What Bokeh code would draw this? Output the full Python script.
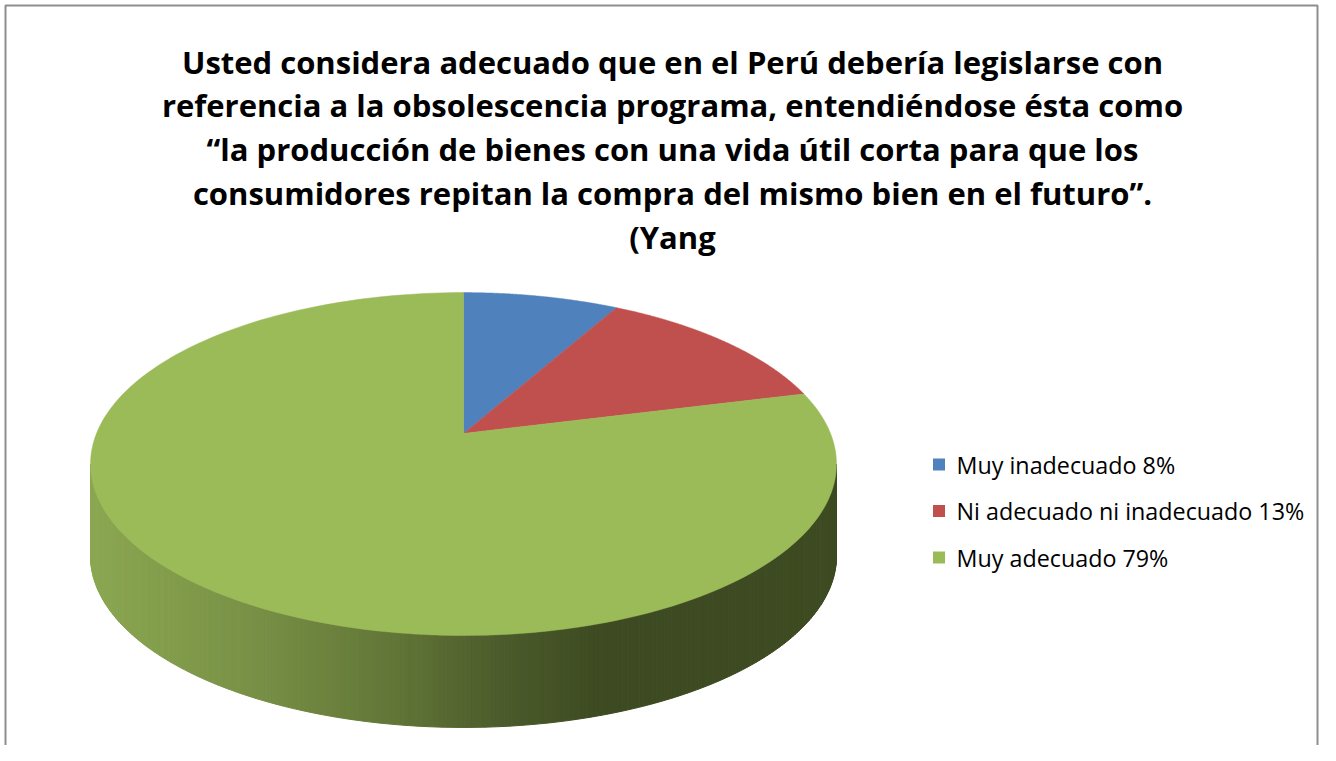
import numpy as np
from bokeh.plotting import figure
from bokeh.models import Range1d, ColumnDataSource
from bokeh.core.properties import value
from bokeh.embed import file_html
from bokeh.resources import INLINE

# ---------------- data ----------------
categories = ["Muy inadecuado", "Ni adecuado ni inadecuado", "Muy adecuado"]
percents = [8, 13, 79]
colors = ["#4F81BD", "#C0504D", "#9BBB59"]
title_lines = [
    "Usted considera adecuado que en el Perú debería legislarse con",
    "referencia a la obsolescencia programa, entendiéndose ésta como",
    "“la producción de bienes con una vida útil corta para que los",
    "consumidores repitan la compra del mismo bien en el futuro”.",
    "(Yang",
]

# ---------------- layout ----------------
W, H = 1320, 745
p = figure(width=W, height=H, x_range=Range1d(0, W), y_range=Range1d(H, 0),
           output_backend="svg", toolbar_location=None, min_border=0)
p.axis.visible = False
p.grid.visible = False
p.outline_line_color = None
p.background_fill_color = "white"
p.border_fill_color = "white"

# border (left, top, right)
p.multi_line(xs=[[5, 5, W - 3, W - 3]], ys=[[H + 5, 5, 5, H + 5]],
             line_color="#8E8E8E", line_width=2)

# perspective pie geometry
CX, CY = 463, 433
A, B, K = 367, 166, 0.178
DEPTH = 92


def proj(phi):
    u = np.sin(phi)
    w = -np.cos(phi)
    d = 1 - K * w
    return CX + A * u / d, CY + B * w / d


# side wall (front half, green slice)
phi_r = np.arccos(-K)
phi_l = 2 * np.pi - phi_r
phis = np.linspace(phi_r, phi_l, 260)
tx, ty = proj(phis)
xmin, xmax = tx.min(), tx.max()
stops_t = [0.0, 0.2, 0.4, 0.55, 0.68, 1.0]
stops_c = [(0x8C, 0xA8, 0x52), (0x7A, 0x93, 0x47), (0x63, 0x77, 0x38), (0x4C, 0x5C, 0x2C),
           (0x3E, 0x4B, 0x22), (0x3E, 0x4B, 0x22)]
wx, wy, wc = [], [], []
for i in range(len(phis) - 1):
    xs = [tx[i], tx[i + 1], tx[i + 1], tx[i]]
    ys = [ty[i], ty[i + 1], ty[i + 1] + DEPTH, ty[i] + DEPTH]
    t = ((tx[i] + tx[i + 1]) / 2 - xmin) / (xmax - xmin)
    rgb = [int(np.interp(t, stops_t, [c[j] for c in stops_c])) for j in range(3)]
    wx.append(xs)
    wy.append(ys)
    wc.append("#%02x%02x%02x" % tuple(rgb))
p.patches(xs="xs", ys="ys", source=ColumnDataSource(dict(xs=wx, ys=wy, c=wc)),
          fill_color="c", line_color="c", line_width=1)

# top slices
cum = np.concatenate([[0], np.cumsum(percents)]) / 100.0 * 2 * np.pi
sx, sy = [], []
for i in range(len(percents)):
    ang = np.linspace(cum[i], cum[i + 1], 200)
    ex, ey = proj(ang)
    sx.append([CX] + list(ex))
    sy.append([CY] + list(ey))
p.patches(xs="xs", ys="ys", source=ColumnDataSource(dict(xs=sx, ys=sy, c=colors)),
          fill_color="c", line_color="c", line_width=0.5)

# title
p.text(x=[672] * len(title_lines), y=[61 + 43.8 * i for i in range(len(title_lines))], text=title_lines,
       text_font=value("Open Sans"), text_font_style="bold", text_font_size="31px",
       text_align="center", text_baseline="middle", text_color="black")

# legend
labels = [f"{c} {v}%" for c, v in zip(categories, percents)]
ly = [464 + 46.5 * i for i in range(len(labels))]
p.rect(x=[938.5] * len(labels), y=ly, width=12, height=12, fill_color=colors, line_color=None)
p.text(x=[956] * len(labels), y=ly, text=labels, text_font=value("Open Sans"), text_font_size="23.3px",
       text_align="left", text_baseline="middle", text_color="black")

open("out.html", "w").write(file_html(p, INLINE))
